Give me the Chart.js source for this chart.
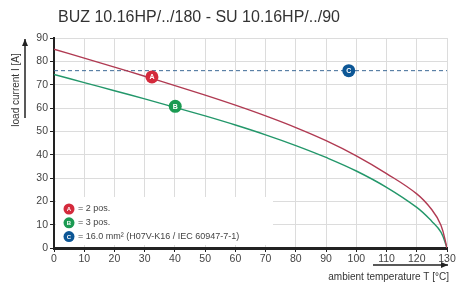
<!DOCTYPE html>
<html>
<head>
<meta charset="utf-8">
<script src="https://cdn.jsdelivr.net/npm/chart.js@4"></script>
<style>
  html, body { margin: 0; padding: 0; background: #fff; }
  #wrap { width: 457px; height: 286px; }
</style>
</head>
<body>
<div id="wrap"><canvas id="chart" width="457" height="286"></canvas></div>
<script>
// Derating curves
const temps = [0, 10, 20, 30, 40, 50, 60, 70, 80, 90, 100, 110, 120, 125, 128, 130];
const currentA = [85.2, 81.4, 77.5, 73.6, 69.6, 65.5, 61.2, 56.6, 51.6, 46.0, 39.5, 31.9, 23.2, 16.4, 9.8, 0];
const currentB = [74.4, 70.9, 67.4, 63.9, 60.3, 56.6, 52.7, 48.5, 43.9, 38.8, 33.0, 26.0, 17.4, 11.4, 6.8, 0];

// Horizontal limit (C) and marker positions
const limitX = [0, 130];
const limitY = [76, 76];
const markerLabels = ["A", "B", "C"];
const markerX = [32.4, 40.1, 97.5];
const markerY = [73.3, 60.7, 76];
const markerColors = ["#d42a3c", "#1b9a52", "#0d5796"];

const legendTexts = ["= 2 pos.", "= 3 pos.", "= 16.0 mm\u00b2 (H07V-K16 / IEC 60947-7-1)"];

const xTicks = [0, 10, 20, 30, 40, 50, 60, 70, 80, 90, 100, 110, 120, 130];
const yTicks = [0, 10, 20, 30, 40, 50, 60, 70, 80, 90];

const toPoints = (xs, ys) => xs.map((x, i) => ({ x: x, y: ys[i] }));

const FONT = "'Liberation Sans', Arial, sans-serif";

function drawBadge(ctx, x, y, r, color, letter) {
    ctx.beginPath();
    ctx.arc(x, y, r, 0, Math.PI * 2);
    ctx.fillStyle = color;
    ctx.fill();
    ctx.fillStyle = "#fff";
    ctx.font = "bold " + Math.round(r * 1.1) + "px " + FONT;
    ctx.textAlign = "center";
    ctx.textBaseline = "middle";
    ctx.fillText(letter, x, y + 0.5);
}

function arrow(ctx, x1, y1, x2, y2) {
    ctx.strokeStyle = "#222";
    ctx.fillStyle = "#222";
    ctx.lineWidth = 1.5;
    ctx.beginPath();
    ctx.moveTo(x1, y1);
    ctx.lineTo(x2, y2);
    ctx.stroke();
    const a = Math.atan2(y2 - y1, x2 - x1);
    ctx.beginPath();
    ctx.moveTo(x2, y2);
    ctx.lineTo(x2 - 7 * Math.cos(a) + 3 * Math.sin(a), y2 - 7 * Math.sin(a) - 3 * Math.cos(a));
    ctx.lineTo(x2 - 7 * Math.cos(a) - 3 * Math.sin(a), y2 - 7 * Math.sin(a) + 3 * Math.cos(a));
    ctx.closePath();
    ctx.fill();
}

const decorations = {
    id: "decorations",
    beforeDatasetsDraw(chart) {
        // white legend box that hides the grid behind it
        const ctx = chart.ctx;
        ctx.save();
        ctx.fillStyle = "#fff";
        ctx.fillRect(56, 197, 217, 48);
        ctx.restore();
    },
    afterDraw(chart) {
        const ctx = chart.ctx;
        ctx.save();

        // title
        ctx.fillStyle = "#333";
        ctx.font = "16px " + FONT;
        ctx.textAlign = "left";
        ctx.textBaseline = "alphabetic";
        ctx.fillText("BUZ 10.16HP/../180 - SU 10.16HP/../90", 58, 22);

        // y axis title with arrow
        ctx.save();
        ctx.translate(16, 90);
        ctx.rotate(-Math.PI / 2);
        ctx.font = "10px " + FONT;
        ctx.fillStyle = "#333";
        ctx.textAlign = "center";
        ctx.textBaseline = "middle";
        ctx.fillText("load current I [A]", 0, 0);
        ctx.restore();
        arrow(ctx, 25, 118, 25, 39);

        // x axis title with arrow
        ctx.font = "10px " + FONT;
        ctx.fillStyle = "#333";
        ctx.textAlign = "right";
        ctx.textBaseline = "alphabetic";
        ctx.fillText("ambient temperature T [\u00b0C]", 449, 280);
        arrow(ctx, 373, 265, 448, 265);

        // marker letters
        const meta = chart.getDatasetMeta(3);
        meta.data.forEach((pt, i) => {
            drawBadge(ctx, pt.x, pt.y, 6.5, markerColors[i], markerLabels[i]);
        });

        // legend
        legendTexts.forEach((t, i) => {
            const y = 209 + i * 13.8;
            drawBadge(ctx, 69, y, 5.5, markerColors[i], markerLabels[i]);
            ctx.fillStyle = "#444";
            ctx.font = "9px " + FONT;
            ctx.textAlign = "left";
            ctx.textBaseline = "middle";
            ctx.fillText(t, 78, y);
        });

        ctx.restore();
    }
};

new Chart(document.getElementById("chart"), {
    type: "line",
    data: {
        datasets: [
            {
                label: "A",
                data: toPoints(temps, currentA),
                borderColor: "#b03a52",
                borderWidth: 1.4,
                pointRadius: 0,
                tension: 0.4,
                fill: false
            },
            {
                label: "B",
                data: toPoints(temps, currentB),
                borderColor: "#23976a",
                borderWidth: 1.4,
                pointRadius: 0,
                tension: 0.4,
                fill: false
            },
            {
                label: "C",
                data: toPoints(limitX, limitY),
                borderColor: "#3d6a96",
                borderWidth: 1,
                borderDash: [4, 3],
                pointRadius: 0,
                fill: false
            },
            {
                label: "markers",
                data: toPoints(markerX, markerY),
                showLine: false,
                pointRadius: 0,
                pointHoverRadius: 0
            }
        ]
    },
    options: {
        responsive: false,
        animation: false,
        layout: { padding: { top: 38, right: 10, left: 0, bottom: 0 } },
        plugins: {
            legend: { display: false },
            tooltip: { enabled: false }
        },
        scales: {
            x: {
                type: "linear",
                min: 0,
                max: 130,
                afterFit: (s) => { s.height = 38; },
                afterBuildTicks: (s) => { s.ticks = xTicks.map(v => ({ value: v })); },
                grid: { color: "#dcdcdc", lineWidth: 1, tickLength: 4, tickColor: "#222" },
                border: { color: "#222", width: 3 },
                ticks: { color: "#444", font: { size: 10.5, family: FONT }, padding: 1, maxRotation: 0 }
            },
            y: {
                min: 0,
                max: 90,
                afterFit: (s) => { s.width = 54; },
                afterBuildTicks: (s) => { s.ticks = yTicks.map(v => ({ value: v })); },
                grid: { color: "#dcdcdc", lineWidth: 1, tickLength: 4, tickColor: "#222" },
                border: { color: "#222", width: 2 },
                ticks: { color: "#444", font: { size: 10.5, family: FONT }, padding: 2 }
            }
        }
    },
    plugins: [decorations]
});
</script>
</body>
</html>
